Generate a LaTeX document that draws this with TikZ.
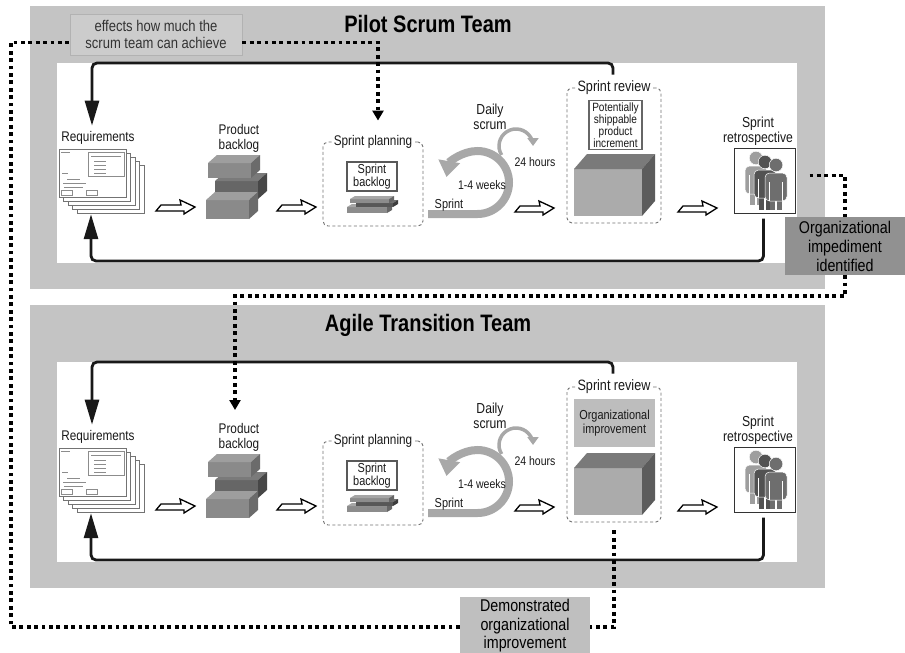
\documentclass[tikz,border=0pt]{standalone}
\usepackage{fontspec}
\setmainfont{Liberation Sans}[FakeStretch=0.84]
\usetikzlibrary{arrows.meta,calc}

\definecolor{panelgray}{gray}{0.77}
\definecolor{notefill}{gray}{0.80}
\definecolor{noteedge}{gray}{0.70}
\definecolor{impfill}{gray}{0.57}
\definecolor{demofill}{gray}{0.75}
\definecolor{cyclegray}{gray}{0.66}
\definecolor{dashgray}{gray}{0.45}
\definecolor{inkgray}{gray}{0.10}

\newcommand\fsz[2]{\fontsize{#1}{#2}\selectfont}

% cuboid: front x1 y1 x2 y2, depth dx dy, colours front/top/side
\newcommand\slab[9]{%
  \fill[#7] (#1,#2) rectangle (#3,#4);
  \fill[#8] (#1,#2) -- ({#1+#5},{#2-#6}) -- ({#3+#5},{#2-#6}) -- (#3,#2) -- cycle;
  \fill[#9] (#3,#2) -- ({#3+#5},{#2-#6}) -- ({#3+#5},{#4-#6}) -- (#3,#4) -- cycle;
}

% hollow flow arrow, left end at the given point
\newcommand\fatarrow[1]{%
  \draw[line width=1.3pt, fill=white, line join=miter] #1 ++(0,4) -- ++(5,-6) -- ++(20,0)
    -- ++(-1,-5) -- ++(15,7) -- ++(-11,7) -- ++(0,-3) -- cycle;
}

% team member: x, head y, colour, leg end offset
\newcommand\person[4]{%
  \fill[#3] ({#1-6},{#2+28}) rectangle ({#1-0.8},{#2+#4});
  \fill[#3] ({#1+0.8},{#2+28}) rectangle ({#1+6},{#2+#4});
  \filldraw[fill=#3, draw=white, line width=0.5pt, rounded corners=4.5pt]
    ({#1-11},{#2+36}) rectangle ({#1+11},{#2+8});
  \draw[white, line width=0.6pt] ({#1-6.5},{#2+17}) -- ({#1-6.5},{#2+36})
    ({#1+6.5},{#2+17}) -- ({#1+6.5},{#2+36});
  \filldraw[fill=#3, draw=white, line width=0.5pt] (#1,#2) circle (6.8pt);
}

% one team: prefix, title
\newcommand\teampanel[2]{%
  \fill[panelgray] (30,6) rectangle (825,289);
  \fill[white] (57,63) rectangle (797,263);
  \node[title, anchor=base] (#1title) at (428,32) {#2};
  % requirement cards
  \foreach \k in {4,3,2,1} {
    \draw[cardedge, fill=white] ({59+4.5*\k},{149+4*\k}) rectangle ++(67,48);
  }
  \draw[cardedge, fill=white] (59,149) rectangle ++(67,48);
  \begin{scope}[scrib]
    \draw (61,152) -- (70,152);
    \draw (88,152) rectangle (124,176);
    \draw (91,156) -- (121,156);
    \foreach \yy in {161,165,169,173} \draw (94,\yy) -- (106,\yy);
    \draw (62,173) -- (68,173);
    \draw (67,179) -- (80,179);
    \draw (63,183) -- (86,183);
    \draw (64,187) -- (83,187);
    \draw (61,190) rectangle (72,195);
    \draw (86,190) rectangle (97,195);
  \end{scope}
  \node[inner sep=0pt, minimum width=88pt, minimum height=66pt] (#1req) at (102,181) {};
  \node[lbl, anchor=base, font=\fsz{14}{15}] (#1reqL) at (98,141) {Requirements};
  % product backlog
  \node[lbl, anchor=north, font=\fsz{14}{15}] (#1pb) at (239,123) {Product\\backlog};
  \slab{215}{181}{258}{199}{9}{8}{black!60}{black!52}{black!72}
  \slab{208}{163}{251}{178}{9}{8}{black!46}{black!38}{black!58}
  \slab{206}{200}{249}{219}{9}{8}{black!46}{black!38}{black!58}
  \coordinate (#1pbin) at ($(#1pb.north)+(-4,-12)$);
  % flow arrows
  \fatarrow{(156,207)}
  \fatarrow{(277,207)}
  \fatarrow{(515,208)}
  \fatarrow{(678,208)}
  % sprint planning
  \node[dashbox, minimum width=100pt, minimum height=84pt] (#1sp) at (373,184) {};
  \node[lbl, fill=white, inner xsep=1.5pt, inner ysep=0pt, font=\fsz{14}{15}] (#1spL) at (#1sp.north) {Sprint planning};
  \node[draw=black!65, line width=1.3pt, fill=white, align=center, inner sep=1pt,
        minimum width=50pt, minimum height=29pt, font=\fsz{13}{12.3}, text=inkgray]
        (#1sb) at (372,176.5) {Sprint\\backlog};
  \slab{347}{207}{387}{213}{5}{3}{black!45}{black!35}{black!60}
  \slab{356}{203}{393}{207}{5}{3}{black!66}{black!56}{black!76}
  \slab{350}{199}{389}{203}{5}{3}{black!45}{black!35}{black!60}
  \coordinate (#1spin) at ($(#1sp.north)+(5,-21)$);
  % sprint cycle
  \draw[cyc] (428,214) -- (477.5,214) arc[start angle=90, end angle=-170, radius=31.5];
  \draw[cycsmall] (516,146) ++(-212:17) arc[start angle=-212, end angle=0, radius=17];
  \node[lbl, font=\fsz{14.5}{15}] (#1ds) at (490,117) {Daily\\scrum};
  \node[lbl, font=\fsz{12.5}{13}] (#1hrs) at (535,162) {24 hours};
  \node[lbl, font=\fsz{12.5}{13}] (#1wks) at (482,185) {1-4 weeks};
  \node[lbl, font=\fsz{13}{13}] (#1spr) at (449,205) {Sprint};
  % sprint review
  \node[dashbox, minimum width=94pt, minimum height=135pt] (#1rev) at (614,155.5) {};
  \node[lbl, fill=white, inner xsep=1.5pt, inner ysep=0pt, font=\fsz{15}{16}] (#1revL) at (#1rev.north) {Sprint review};
  \slab{574}{169}{642}{216}{13}{15}{black!33}{black!52}{black!64}
  % sprint retrospective
  \node[lbl, font=\fsz{14.5}{15}] (#1retL) at (758,131) {Sprint\\retrospective};
  \node[draw=black!80, line width=1pt, fill=white, minimum width=61pt, minimum height=65pt, inner sep=0pt] (#1ret) at (764.5,180.5) {};
  \person{756}{158}{black!38}{47}
  \person{765}{162}{black!68}{48}
  \person{776}{165}{black!57}{45}
  % feedback loops back to the requirements
  \coordinate (#1tc) at (92,63);
  \draw[loopline] ($(#1rev.north)+(-1,-13)$) |- (#1tc) -- ($(#1tc |- #1reqL.north)+(0,-4)$);
  \coordinate (#1bc) at (91,261);
  \draw[loopline] ($(#1ret.south)+(-1,5)$) |- (#1bc) -- (#1bc |- #1req.south);
}

\begin{document}
\begin{tikzpicture}[x=1pt,y=-1pt,
  lbl/.style={align=center, inner sep=1pt, text=inkgray},
  title/.style={font=\bfseries\fsz{23.8}{26}, inner sep=0pt, text=black},
  cardedge/.style={draw=black!55, line width=0.5pt},
  scrib/.style={draw=black!45, line width=0.35pt},
  dashbox/.style={draw=dashgray, line width=0.9pt, dash pattern=on 3pt off 2.4pt, rounded corners=5pt, inner sep=0pt},
  loopline/.style={draw=inkgray, line width=2.8pt, rounded corners=5pt, -{Triangle[length=25pt,width=14pt]}},
  dotline/.style={draw=black, line width=3.8pt, dash pattern=on 3.8pt off 3.6pt},
  dotarrow/.style={dotline, -{Triangle[length=10pt,width=11pt]}},
  cyc/.style={draw=cyclegray, line width=8pt, -{Triangle[length=16pt,width=21pt]}},
  cycsmall/.style={draw=cyclegray, line width=3.5pt, -{Triangle[length=8pt,width=11pt]}},
  notebox/.style={align=center, inner sep=0pt}
]
\useasboundingbox (0,0) rectangle (905,653);
\fill[white] (0,0) rectangle (905,653);

% pilot scrum team
\teampanel{p}{Pilot Scrum Team}
\node[draw=black!60, line width=1.2pt, fill=white, align=center, inner sep=1.5pt,
      minimum width=53pt, minimum height=46pt, font=\fsz{12}{10.7}, text=inkgray]
      (pinc) at (615.5,125) {Potentially\\shippable\\product\\increment};

% agile transition team
\begin{scope}[yshift=-299pt]
  \teampanel{a}{Agile Transition Team}
  \node[fill=black!26, align=center, inner sep=0pt, minimum width=81pt, minimum height=48pt,
        font=\fsz{13}{14.5}, text=inkgray] (aimp) at (614.5,124) {Organizational\\improvement};
\end{scope}

% notes
\node[notebox, fill=notefill, draw=noteedge, line width=0.6pt, minimum width=172pt, minimum height=41pt,
      font=\fsz{15.5}{17.5}, text=black!80] (eff) at (156,34.5) {effects how much the\\scrum team can achieve};
\node[notebox, fill=impfill, minimum width=120pt, minimum height=58pt, font=\fsz{17}{19}, text=black]
      (imp) at (845,246) {Organizational\\impediment\\identified};
\node[notebox, fill=demofill, minimum width=130pt, minimum height=58pt, font=\fsz{17}{18.5}, text=black]
      (dem) at (525,626) {Demonstrated\\organizational\\improvement};

% dotted influence lines
\coordinate (leftrail) at (11,300);
\coordinate (midrail) at (235,296);
\draw[dotarrow] ($(eff.east)+(0,8)$) -| (pspin);
\draw[dotline] ($(dem.west)+(0,1)$) -| (leftrail) |- ($(eff.west)+(0,8)$);
\draw[dotline] ($(arev.south)+(0,8)$) |- ($(dem.east)+(0,1)$);
\draw[dotline] ($(pret.east)+(14,-5)$) -| (imp.north);
\draw[dotarrow] (imp.south) |- (midrail) -- (apbin);
\end{tikzpicture}
\end{document}
